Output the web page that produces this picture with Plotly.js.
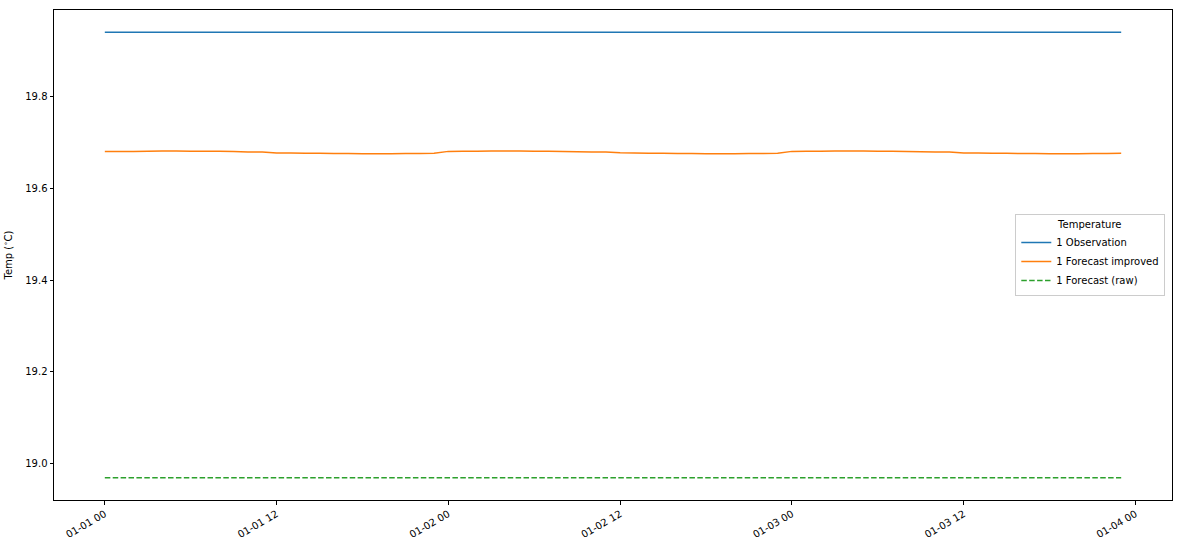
<!DOCTYPE html>
<html>
<head>
<meta charset="utf-8">
<script src="https://cdn.plot.ly/plotly-3.0.1.min.js"></script>
<style>
  html, body { margin: 0; padding: 0; background: #fff; }
  #chart { width: 1181px; height: 545px; }
</style>
</head>
<body>
<div id="chart"></div>
<script>
// hours since 01-01 00, one reading per hour
const hours = [
  0, 1, 2, 3, 4, 5, 6, 7, 8, 9, 10, 11, 12, 13, 14, 15, 16, 17, 18, 19, 20, 21, 22, 23,
  24, 25, 26, 27, 28, 29, 30, 31, 32, 33, 34, 35, 36, 37, 38, 39, 40, 41, 42, 43, 44, 45, 46, 47,
  48, 49, 50, 51, 52, 53, 54, 55, 56, 57, 58, 59, 60, 61, 62, 63, 64, 65, 66, 67, 68, 69, 70, 71
];

const observation = [
  19.94, 19.94, 19.94, 19.94, 19.94, 19.94, 19.94, 19.94, 19.94, 19.94, 19.94, 19.94,
  19.94, 19.94, 19.94, 19.94, 19.94, 19.94, 19.94, 19.94, 19.94, 19.94, 19.94, 19.94,
  19.94, 19.94, 19.94, 19.94, 19.94, 19.94, 19.94, 19.94, 19.94, 19.94, 19.94, 19.94,
  19.94, 19.94, 19.94, 19.94, 19.94, 19.94, 19.94, 19.94, 19.94, 19.94, 19.94, 19.94,
  19.94, 19.94, 19.94, 19.94, 19.94, 19.94, 19.94, 19.94, 19.94, 19.94, 19.94, 19.94,
  19.94, 19.94, 19.94, 19.94, 19.94, 19.94, 19.94, 19.94, 19.94, 19.94, 19.94, 19.94
];

const improved = [
  19.6804, 19.6804, 19.6805, 19.6810, 19.6812, 19.6812, 19.6810, 19.6808, 19.6806, 19.6800, 19.6794, 19.6790,
  19.6772, 19.6768, 19.6766, 19.6762, 19.6760, 19.6757, 19.6754, 19.6754, 19.6756, 19.6760, 19.6761, 19.6762,
  19.6805, 19.6806, 19.6808, 19.6811, 19.6812, 19.6811, 19.6809, 19.6807, 19.6805, 19.6799, 19.6793, 19.6789,
  19.6773, 19.6769, 19.6766, 19.6763, 19.6760, 19.6757, 19.6755, 19.6754, 19.6756, 19.6759, 19.6761, 19.6762,
  19.6805, 19.6806, 19.6808, 19.6811, 19.6812, 19.6811, 19.6809, 19.6807, 19.6804, 19.6799, 19.6793, 19.6789,
  19.6772, 19.6768, 19.6766, 19.6762, 19.6759, 19.6757, 19.6755, 19.6754, 19.6756, 19.6759, 19.6761, 19.6762
];

const raw = [
  18.9695, 18.9695, 18.9695, 18.9695, 18.9695, 18.9695, 18.9695, 18.9695, 18.9695, 18.9695, 18.9695, 18.9695,
  18.9695, 18.9695, 18.9695, 18.9695, 18.9695, 18.9695, 18.9695, 18.9695, 18.9695, 18.9695, 18.9695, 18.9695,
  18.9695, 18.9695, 18.9695, 18.9695, 18.9695, 18.9695, 18.9695, 18.9695, 18.9695, 18.9695, 18.9695, 18.9695,
  18.9695, 18.9695, 18.9695, 18.9695, 18.9695, 18.9695, 18.9695, 18.9695, 18.9695, 18.9695, 18.9695, 18.9695,
  18.9695, 18.9695, 18.9695, 18.9695, 18.9695, 18.9695, 18.9695, 18.9695, 18.9695, 18.9695, 18.9695, 18.9695,
  18.9695, 18.9695, 18.9695, 18.9695, 18.9695, 18.9695, 18.9695, 18.9695, 18.9695, 18.9695, 18.9695, 18.9695
];

const start = Date.UTC(2018, 0, 1);
function stamp(h) {
  return new Date(start + h * 3600 * 1000).toISOString().slice(0, 19).replace('T', ' ');
}
const times = hours.map(stamp);

const font = {family: 'DejaVu Sans, sans-serif', size: 10, color: '#000'};

const data = [
  {x: times, y: observation, type: 'scatter', mode: 'lines', name: '1 Observation',
   line: {color: '#1f77b4', width: 1.5, simplify: false}},
  {x: times, y: improved, type: 'scatter', mode: 'lines', name: '1 Forecast improved',
   line: {color: '#ff7f0e', width: 1.5, simplify: false}},
  {x: times, y: raw, type: 'scatter', mode: 'lines', name: '1 Forecast (raw)',
   line: {color: '#2ca02c', width: 1.5, dash: '5.5px,2.4px', simplify: false}}
];

// matplotlib style 5% padding around the data
const xspan = 71;
const ylo = 18.9695, yhi = 19.94, ypad = (yhi - ylo) * 0.05;

const layout = {
  width: 1181,
  height: 545,
  font: font,
  paper_bgcolor: '#fff',
  plot_bgcolor: '#fff',
  showlegend: true,
  margin: {l: 54, r: 9, t: 10, b: 45},
  xaxis: {
    type: 'date',
    range: [stamp(-xspan * 0.05), stamp(xspan * 1.05)],
    tickformat: '%m-%d %H',
    tick0: stamp(0),
    dtick: 12 * 3600 * 1000,
    tickangle: -30,
    ticks: 'outside',
    ticklen: 3.5,
    tickcolor: '#000',
    showgrid: false,
    zeroline: false,
    showline: true,
    mirror: true,
    linecolor: '#000',
    linewidth: 1,
    tickfont: font
  },
  yaxis: {
    range: [ylo - ypad, yhi + ypad],
    tick0: 19.0,
    dtick: 0.2,
    tickformat: '.1f',
    ticks: 'outside',
    ticklen: 3.5,
    tickcolor: '#000',
    showgrid: false,
    zeroline: false,
    showline: true,
    mirror: true,
    linecolor: '#000',
    linewidth: 1,
    tickfont: font,
    title: {text: 'Temp (<sup>∘</sup>C)', font: font, standoff: 10}
  },
  legend: {
    title: {text: 'Temperature', side: 'top center', font: font},
    x: 0.994,
    xanchor: 'right',
    y: 0.5,
    yanchor: 'middle',
    bgcolor: 'rgba(255,255,255,0.8)',
    bordercolor: '#cccccc',
    borderwidth: 1,
    font: font,
    tracegroupgap: 0,
    itemwidth: 30
  }
};

const config = {responsive: false, displayModeBar: false, staticPlot: true};
Plotly.newPlot('chart', data, layout, config);
</script>
</body>
</html>
